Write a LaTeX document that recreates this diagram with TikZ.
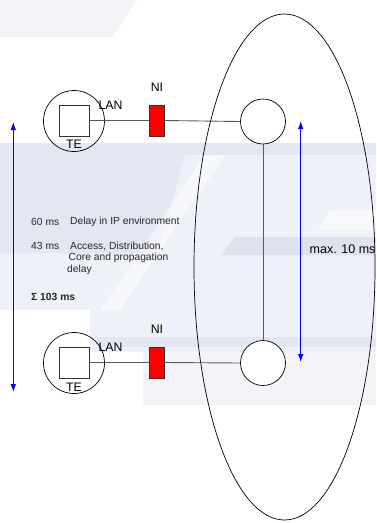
\documentclass[tikz,border=0pt]{standalone}
\usepackage{fontspec}
\setmainfont{Liberation Sans}
\usetikzlibrary{arrows.meta,shapes.geometric}
\definecolor{bgA}{HTML}{F3F4F8}
\definecolor{bgB}{HTML}{EEF1F7}
\definecolor{bgC}{HTML}{E3E7F1}
\definecolor{bgD}{HTML}{DDE2ED}
\definecolor{linegray}{HTML}{5A5A5A}
\tikzset{
  term/.style={draw=black, line width=0.7pt, circle, minimum size=61pt, inner sep=0pt},
  sw/.style={draw=black, line width=0.7pt, circle, minimum size=45pt, inner sep=0pt, fill=white},
  tebox/.style={draw=black!80, line width=0.8pt, minimum width=30pt, minimum height=31pt, inner sep=0pt, fill=white},
  nibox/.style={draw=black!80, line width=0.8pt, fill=red, minimum width=15pt, minimum height=31pt, inner sep=0pt},
  lbl/.style={font=\fontsize{12.3}{14}\selectfont, inner sep=0pt},
  txt/.style={font=\fontsize{10.3}{12}\selectfont, inner sep=0pt, anchor=west, text=black!85},
  conn/.style={draw=linegray, line width=0.9pt},
  blue arrow/.style={draw=blue, line width=0.9pt, {Latex[length=8pt,width=5.5pt]}-{Latex[length=8pt,width=5.5pt]}}
}
\begin{document}
\begin{tikzpicture}[x=1pt,y=-1pt]
\useasboundingbox (0,0) rectangle (376,523);
% faint background watermark
\fill[bgA] (0,0) -- (137,0) -- (113,37) -- (0,37) -- cycle;
\fill[bgB] (0,143) rectangle (376,310);
\fill[bgC] (0,143) rectangle (376,155);
\fill[bgC] (0,155) -- (185,155) -- (158,253) -- (0,253) -- cycle;
\fill[white, opacity=0.5] (205,155) -- (225,155) -- (120,310) -- (100,310) -- cycle;
\fill[white, opacity=0.6] (330,210) -- (376,210) -- (376,230) -- (318,230) -- cycle;
\fill[bgD] (235,237) -- (376,237) -- (376,255) -- (221,255) -- cycle;
\fill[bgB] (90,310) rectangle (376,352);
\fill[bgC] (97,337) rectangle (376,347);
\fill[bgA] (143,352) rectangle (376,405);
% ellipse
\node[draw=black, line width=0.7pt, ellipse, minimum width=181pt, minimum height=506pt, inner sep=0pt] (net) at (284.5,267) {};
% top row
\node[term] (t1) at (74,121) {};
\node[tebox] (s1) at (74,120.5) {};
\node[nibox] (n1) at (156.5,120.5) {};
\node[sw] (r1) at (263,121.5) {};
% bottom row
\node[term] (t2) at (74,363) {};
\node[tebox] (s2) at (74,362.5) {};
\node[nibox] (n2) at (156.5,362.5) {};
\node[sw] (r2) at (263,363) {};
% connectors
\draw[conn] (s1.east) -- (n1.west);
\draw[conn] (n1.east) -- (r1.west);
\draw[conn] (s2.east) -- (n2.west);
\draw[conn] (n2.east) -- (r2.west);
\draw[conn] (r1.south) -- (r2.north);
% labels
\node[lbl] (lan1) at (110.5,105.5) {LAN};
\node[lbl] (ni1) at (157,87.5) {NI};
\node[lbl] (te1) at (74,144.7) {TE};
\node[lbl] (lan2) at (110.5,347.5) {LAN};
\node[lbl] (ni2) at (157,329.5) {NI};
\node[lbl] (te2) at (74,387.5) {TE};
% blue arrows
\coordinate (la) at (13.3,122);
\coordinate (lb) at (13.3,392);
\draw[blue arrow] (la) -- (lb);
\coordinate (ra) at (300.7,121);
\coordinate (rb) at (300.7,362);
\draw[blue arrow] (ra) -- (rb);
\node[lbl, anchor=west, font=\fontsize{12.5}{14}\selectfont] (max) at (309.5,249) {max. 10 ms};
% text block
\node[txt] (d60) at (31,222) {60 ms};
\node[txt] (d60t) at (70,222) {Delay in IP environment};
\node[txt] (d43) at (31,246) {43 ms};
\node[txt] (d43a) at (70,246) {Access, Distribution,};
\node[txt] (d43b) at (68.5,258) {Core and propagation};
\node[txt] (d43c) at (67,270) {delay};
\node[txt, font=\fontsize{10.3}{12}\selectfont\bfseries] (sum) at (31,297) {Σ 103 ms};
\end{tikzpicture}
\end{document}
